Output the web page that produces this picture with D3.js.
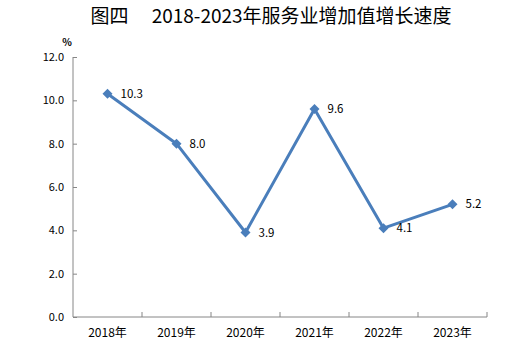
<!DOCTYPE html>
<html><head><meta charset="utf-8">
<script src="https://cdn.jsdelivr.net/npm/d3@7"></script>
<style>body{margin:0;background:#fff}svg{display:block}</style>
</head><body>
<script>
const titleText = "图四　 2018-2023年服务业增加值增长速度";
const categories = ["2018年","2019年","2020年","2021年","2022年","2023年"];
const values = [10.3, 8.0, 3.9, 9.6, 4.1, 5.2];
const yTicks = [0, 2, 4, 6, 8, 10, 12];
const unitLabel = "%";

const W = 518, H = 348;
const m = {left: 73, right: 31, top: 57, bottom: 31};
const svg = d3.select("body").append("svg").attr("width", W).attr("height", H);
const font = "'Noto Sans CJK SC', 'Noto Sans', sans-serif";

const x = d3.scaleBand().domain(categories).range([m.left, W - m.right]);
const y = d3.scaleLinear().domain([0, 12]).range([H - m.bottom, m.top]);
const axisColor = "#868686";

svg.append("text").attr("x", 271).attr("y", 23).attr("text-anchor", "middle")
  .attr("font-family", font).attr("font-size", 19).attr("fill", "#000").text(titleText);

svg.append("text").attr("x", 67).attr("y", 46).attr("text-anchor", "middle")
  .attr("font-family", font).attr("font-size", 10).attr("font-weight", "bold").attr("fill", "#000").text(unitLabel);

// y axis
const yAxis = svg.append("g").attr("transform", `translate(${m.left},0)`)
  .call(d3.axisRight(y).tickValues(yTicks).tickSize(4).tickFormat(""));
yAxis.select(".domain").attr("stroke", axisColor).attr("d", `M0,${y(12)}V${y(0)}`);
yAxis.selectAll(".tick line").attr("stroke", axisColor);
svg.append("g").selectAll("text").data(yTicks).join("text")
  .attr("x", m.left - 9).attr("y", d => y(d)).attr("dy", "0.35em").attr("text-anchor", "end")
  .attr("font-family", font).attr("font-size", 11).attr("fill", "#000")
  .text(d => d3.format(".1f")(d));

// x axis
const xAxis = svg.append("g").attr("transform", `translate(0,${y(0)})`)
  .call(d3.axisBottom(x).tickSize(0).tickFormat(""));
xAxis.select(".domain").attr("stroke", axisColor).attr("d", `M${m.left},0H${W - m.right}`);
xAxis.selectAll(".tick").remove();
const bounds = categories.map(c => x(c) + x.bandwidth());
svg.append("g").selectAll("line").data(bounds).join("line")
  .attr("x1", d => d).attr("x2", d => d).attr("y1", y(0)).attr("y2", y(0) - 5)
  .attr("stroke", axisColor);
svg.append("g").selectAll("text").data(categories).join("text")
  .attr("x", d => x(d) + x.bandwidth() / 2).attr("y", y(0) + 20).attr("text-anchor", "middle")
  .attr("font-family", font).attr("font-size", 12).attr("fill", "#000").text(d => d);

const lineColor = "#4a7ebb";
const data = categories.map((c, i) => ({c, v: values[i]}));
const cx = d => x(d.c) + x.bandwidth() / 2;
svg.append("path").datum(data)
  .attr("d", d3.line().x(cx).y(d => y(d.v)))
  .attr("fill", "none").attr("stroke", lineColor).attr("stroke-width", 3).attr("stroke-linejoin", "round");
svg.append("g").selectAll("path").data(data).join("path")
  .attr("d", d3.symbol(d3.symbolDiamond2, 64)())
  .attr("transform", d => `translate(${cx(d)},${y(d.v)})`).attr("fill", lineColor);
svg.append("g").selectAll("text").data(data).join("text")
  .attr("x", d => cx(d) + 13).attr("y", d => y(d.v)).attr("dy", "0.35em")
  .attr("font-family", font).attr("font-size", 11.5).attr("fill", "#000")
  .text(d => d3.format(".1f")(d.v));
</script>
</body></html>
